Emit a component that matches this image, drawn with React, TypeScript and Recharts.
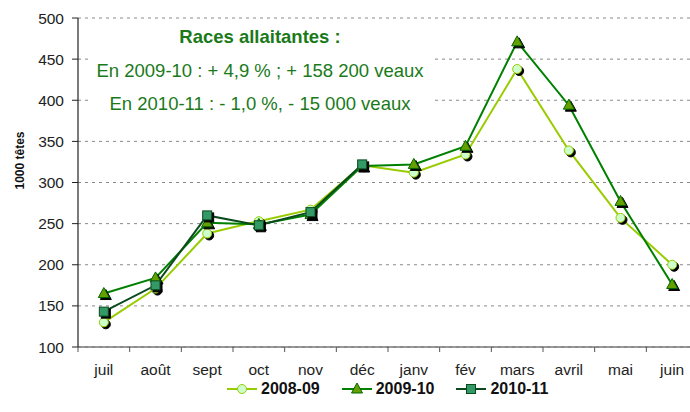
import { LineChart, Line, XAxis, YAxis, CartesianGrid, Legend } from 'recharts';

const months = ['juil', 'août', 'sept', 'oct', 'nov', 'déc', 'janv', 'fév', 'mars', 'avril', 'mai', 'juin'];
const s0809 = [130, 171, 238, 253, 267, 321, 312, 334, 438, 339, 257, 200];
const s0910 = [165, 184, 251, 249, 261, 320, 322, 344, 471, 394, 277, 176];
const s1011: (number | null)[] = [143, 175, 260, 248, 264, 322, null, null, null, null, null, null];
const yTicks = [100, 150, 200, 250, 300, 350, 400, 450, 500];

const data = months.map((m, i) => ({ month: m, a: s0809[i], b: s0910[i], c: s1011[i] }));

const FONT = '"Liberation Sans", Arial, sans-serif';
const CHART_W = 720;
const CHART_H = 412;
const MARGIN = { top: 18, right: 22, left: 28, bottom: 11 };
const Y_WIDTH = 50;
const BAND = (CHART_W - MARGIN.left - MARGIN.right - Y_WIDTH) / months.length;

const series = [
  { key: 'a', name: '2008-09', line: '#99CC00', fill: '#CCFFCC', stroke: '#99CC00', shape: 'circle' },
  { key: 'b', name: '2009-10', line: '#008000', fill: '#66A000', stroke: '#006600', shape: 'triangle' },
  { key: 'c', name: '2010-11', line: '#0A4A1C', fill: '#339966', stroke: '#0A4A1C', shape: 'square' },
];

function Marker({ shape, x, y, fill, stroke, shadow }: any) {
  const draw = (dx: number, dy: number, f: string, s: string) => {
    if (shape === 'circle') return <circle cx={x + dx} cy={y + dy} r={4.5} fill={f} stroke={s} strokeWidth={1} />;
    if (shape === 'triangle')
      return <polygon points={`${x + dx},${y + dy - 6} ${x + dx + 5.5},${y + dy + 4} ${x + dx - 5.5},${y + dy + 4}`} fill={f} stroke={s} strokeWidth={1} />;
    return <rect x={x + dx - 4.5} y={y + dy - 4.5} width={9} height={9} fill={f} stroke={s} strokeWidth={1} />;
  };
  return (
    <g>
      {shadow && draw(2, 2, '#000', '#000')}
      {draw(0, 0, fill, stroke)}
    </g>
  );
}

const makeDot = (s: typeof series[number]) => (props: any) => {
  const { cx, cy, index, value } = props;
  if (value == null || cx == null || cy == null) return <g key={`e-${s.key}-${index}`} />;
  return <Marker key={`d-${s.key}-${index}`} shape={s.shape} x={cx} y={cy} fill={s.fill} stroke={s.stroke} shadow />;
};

// category labels centred, tick marks between categories (Excel style)
function XTick(props: any) {
  const { x, y, payload, index } = props;
  const axisY = y - 2;
  return (
    <g>
      <line x1={x - BAND / 2} y1={axisY} x2={x - BAND / 2} y2={axisY + 5} stroke="#555" />
      {index === months.length - 1 && <line x1={x + BAND / 2} y1={axisY} x2={x + BAND / 2} y2={axisY + 5} stroke="#555" />}
      <text x={x} y={axisY + 28} textAnchor="middle" fontSize={15.5} fill="#222" fontFamily={FONT}>
        {payload.value}
      </text>
    </g>
  );
}

function LegendContent() {
  return (
    <div style={{ display: 'flex', height: 24, fontFamily: FONT, paddingLeft: 227 }}>
      {series.map((s) => (
        <div key={s.key} style={{ display: 'flex', alignItems: 'center', marginRight: 22 }}>
          <svg width={30} height={14}>
            <line x1={0} y1={7} x2={30} y2={7} stroke={s.line} strokeWidth={2} />
            <Marker shape={s.shape} x={15} y={7} fill={s.fill} stroke={s.stroke} />
          </svg>
          <span style={{ fontWeight: 'bold', fontSize: 16, marginLeft: 4, color: '#111' }}>{s.name}</span>
        </div>
      ))}
    </div>
  );
}

const noteStyle: any = {
  position: 'absolute',
  left: 88,
  width: 344,
  height: 20,
  lineHeight: '20px',
  textAlign: 'center',
  color: '#1A7A1A',
  fontFamily: FONT,
  fontSize: 18.5,
  whiteSpace: 'nowrap',
};

export default function App() {
  return (
    <div style={{ position: 'absolute', left: 0, top: 0, width: 690, height: 412, overflow: 'hidden', background: '#fff' }}>
      <LineChart width={CHART_W} height={CHART_H} data={data} margin={MARGIN}>
        <CartesianGrid horizontal vertical={false} stroke="#8a8a8a" strokeDasharray="3 4" />
        <XAxis
          dataKey="month"
          axisLine={{ stroke: '#777', strokeWidth: 1.5 }}
          tickLine={false}
          tickSize={0}
          tickMargin={2}
          height={30}
          interval={0}
          padding={{ left: BAND / 2, right: BAND / 2 }}
          tick={<XTick />}
        />
        <YAxis
          width={Y_WIDTH}
          domain={[100, 500]}
          ticks={yTicks}
          interval={0}
          axisLine={{ stroke: '#222', strokeWidth: 1.2 }}
          tickLine={{ stroke: '#222' }}
          tickSize={6}
          tickMargin={8}
          tick={{ fontSize: 15.5, fill: '#222', fontFamily: FONT }}
          label={{
            content: ({ viewBox }: any) => {
              const cx = viewBox.x - 8;
              const cy = viewBox.y + viewBox.height / 2 - 22;
              return (
                <text x={cx} y={cy} transform={`rotate(-90 ${cx} ${cy})`} textAnchor="middle" dominantBaseline="central" fontSize={12} fontWeight="bold" fill="#111" fontFamily={FONT}>
                  1000 têtes
                </text>
              );
            },
          }}
        />
        <Legend verticalAlign="bottom" height={24} content={<LegendContent />} wrapperStyle={{ left: 0, width: 690 }} />
        {series.map((s) => (
          <Line
            key={s.key}
            dataKey={s.key}
            name={s.name}
            stroke={s.line}
            strokeWidth={2}
            dot={makeDot(s)}
            activeDot={false}
            isAnimationActive={false}
            connectNulls={false}
          />
        ))}
      </LineChart>
      <div style={{ position: 'absolute', left: 88, top: 22, width: 344, height: 98, background: '#fff' }} />
      <div style={{ ...noteStyle, top: 27, fontWeight: 'bold' }}>Races allaitantes :</div>
      <div style={{ ...noteStyle, top: 61 }}>En 2009-10 : + 4,9 % ; + 158 200 veaux</div>
      <div style={{ ...noteStyle, top: 94 }}>En 2010-11 : - 1,0 %, - 15 000 veaux</div>
    </div>
  );
}
